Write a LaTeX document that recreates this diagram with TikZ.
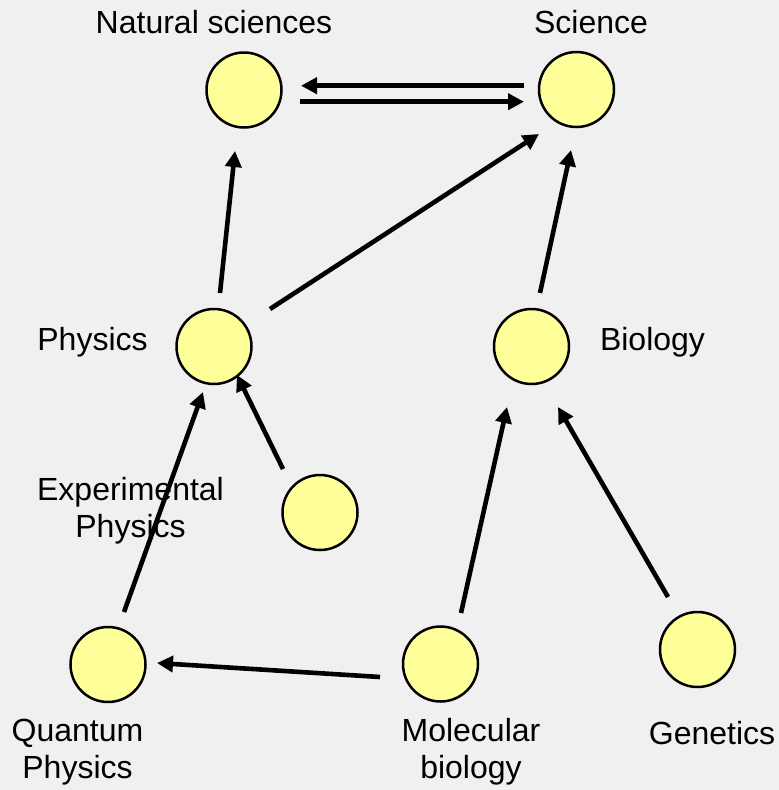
\documentclass[tikz,border=0pt]{standalone}
\usepackage{fontspec}
\setmainfont{Liberation Sans}
\usetikzlibrary{arrows.meta,calc}
\definecolor{bg}{HTML}{F0F0F0}
\definecolor{nodefill}{HTML}{FFFF99}
\begin{document}
\begin{tikzpicture}[x=1pt,y=-1pt,
  topic/.style={circle,draw=black,fill=nodefill,line width=2.5pt,minimum size=75pt,inner sep=0pt},
  lbl/.style={font=\fontsize{32pt}{36.8pt}\selectfont,anchor=base,align=center,inner sep=0pt},
  arr/.style={line width=4.6pt,-{Triangle[length=16pt,width=16pt]}}]
  % canvas
  \fill[bg] (0,0) rectangle (779,790);
  \useasboundingbox (0,0) rectangle (779,790);

  % topics
  \node[topic] (nat)   at (244,90) {};
  \node[topic] (sci)   at (576.5,89.5) {};
  \node[topic] (phys)  at (214,346.5) {};
  \node[topic] (bio)   at (531.5,346.5) {};
  \node[topic] (exp)   at (320,512.5) {};
  \node[topic] (quant) at (108,664.5) {};
  \node[topic] (mol)   at (440.5,664) {};
  \node[topic] (gen)   at (697.5,649.5) {};

  % labels (base = baseline of the last line)
  \node[lbl] (natL)   at (214,33) {Natural sciences};
  \node[lbl] (sciL)   at (591,33) {Science};
  \node[lbl] (physL)  at (92.5,350) {Physics};
  \node[lbl] (bioL)   at (652.5,350) {Biology};
  \node[lbl] (expL)   at (130.5,537) {Experimental\\Physics};
  \node[lbl] (quantL) at (77.5,778) {Quantum\\Physics};
  \node[lbl] (molL)   at (471,778) {Molecular\\biology};
  \node[lbl] (genL)   at (712,744) {Genetics};

  % links
  \draw[arr] ($(sci)+(-52.5,-3.8)$) -- ($(nat)+(57,-4.3)$);
  \draw[arr] ($(nat)+(56,11.7)$) -- ($(sci)+(-52.5,12.2)$);
  \draw[arr] ($(phys)+(6,-53.5)$) -- ($(nat)+(-9,61)$);
  \draw[arr] ($(phys)+(56,-37.5)$) -- ($(sci)+(-37.5,44.5)$);
  \draw[arr] ($(bio)+(8.5,-53.5)$) -- ($(sci)+(-5.5,60.5)$);
  \draw[arr] ($(exp)+(-37,-43.5)$) -- ($(phys)+(23,28.5)$);
  \draw[arr] ($(quant)+(16,-52.5)$) -- ($(phys)+(-11,45.5)$);
  \draw[arr] ($(mol)+(-60.5,13)$) -- ($(quant)+(49,-1.5)$);
  \draw[arr] ($(mol)+(20.5,-51)$) -- ($(bio)+(-24.5,60.5)$);
  \draw[arr] ($(gen)+(-29.5,-52.5)$) -- ($(bio)+(26.5,60.5)$);
\end{tikzpicture}
\end{document}
